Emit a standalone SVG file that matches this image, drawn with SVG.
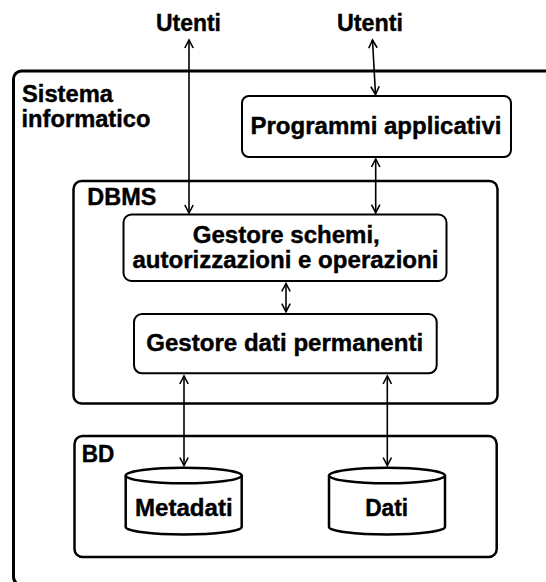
<svg xmlns="http://www.w3.org/2000/svg" width="546" height="582" viewBox="0 0 546 582">
  <style>
    text { font-family: "Liberation Sans", Arial, Helvetica, sans-serif; font-weight: bold; font-size: 23.5px; fill: #000; stroke: #000; stroke-width: 0.4; }
    .mid { text-anchor: middle; }
    .frame { fill: #fff; stroke: #000; stroke-width: 3; }
    .group { fill: #fff; stroke: #000; stroke-width: 2.5; }
    .box { fill: #fff; stroke: #000; stroke-width: 2; }
    .db { fill: #fff; stroke: #000; stroke-width: 2.5; }
    .link { fill: none; stroke: #000; stroke-width: 1.6; marker-start: url(#head); marker-end: url(#head); }
  </style>
  <defs>
    <marker id="head" markerUnits="userSpaceOnUse" viewBox="-10 -6 12 12" refX="0" refY="0" markerWidth="12" markerHeight="12" orient="auto-start-reverse">
      <path d="M-8,-4.2 L0,0 L-8,4.2" fill="none" stroke="#000" stroke-width="1.6"/>
    </marker>
  </defs>

  <rect x="0" y="0" width="546" height="582" fill="#fff"/>

  <!-- outer system frame -->
  <g id="sistema">
    <rect class="frame" x="13.5" y="71" width="560" height="514" rx="8"/>
    <text x="22" y="102" textLength="91" lengthAdjust="spacingAndGlyphs">Sistema</text>
    <text x="21.5" y="126.5" textLength="129" lengthAdjust="spacingAndGlyphs">informatico</text>
  </g>

  <g id="utenti1">
    <text class="mid" x="188.5" y="30.5" textLength="65" lengthAdjust="spacingAndGlyphs">Utenti</text>
  </g>
  <g id="utenti2">
    <text class="mid" x="370" y="30.5" textLength="66" lengthAdjust="spacingAndGlyphs">Utenti</text>
  </g>

  <g id="programmi">
    <rect class="box" x="242" y="96" width="269" height="61" rx="7"/>
    <text class="mid" x="376" y="134" textLength="251" lengthAdjust="spacingAndGlyphs">Programmi applicativi</text>
  </g>

  <g id="dbms">
    <rect class="group" x="73.5" y="181" width="424" height="222.5" rx="8"/>
    <text x="87.3" y="205" textLength="69" lengthAdjust="spacingAndGlyphs">DBMS</text>
  </g>

  <g id="gestore-schemi">
    <rect class="box" x="123.5" y="214.5" width="323" height="66.5" rx="8"/>
    <text class="mid" x="286.3" y="243" textLength="187" lengthAdjust="spacingAndGlyphs">Gestore schemi,</text>
    <text class="mid" x="285.4" y="268" textLength="306" lengthAdjust="spacingAndGlyphs">autorizzazioni e operazioni</text>
  </g>

  <g id="gestore-dati">
    <rect class="box" x="134" y="314" width="302.7" height="59.3" rx="8"/>
    <text class="mid" x="284.7" y="351" textLength="277" lengthAdjust="spacingAndGlyphs">Gestore dati permanenti</text>
  </g>

  <g id="bd">
    <rect class="group" x="74.5" y="436" width="422.2" height="121" rx="8"/>
    <text x="81.7" y="461.5" textLength="32.6" lengthAdjust="spacingAndGlyphs">BD</text>
  </g>

  <g id="metadati">
    <path class="db" d="M125.7,475.5 L125.7,527 A58,7.5 0 0 0 241.7,527 L241.7,475.5"/>
    <ellipse class="db" cx="183.7" cy="475.5" rx="58" ry="7.8"/>
    <text class="mid" x="183.8" y="516" textLength="97.7" lengthAdjust="spacingAndGlyphs">Metadati</text>
  </g>

  <g id="dati">
    <path class="db" d="M329,475.5 L329,527 A58,7.5 0 0 0 445,527 L445,475.5"/>
    <ellipse class="db" cx="387" cy="475.5" rx="58" ry="7.8"/>
    <text class="mid" x="386.7" y="516" textLength="43" lengthAdjust="spacingAndGlyphs">Dati</text>
  </g>

  <!-- connectors -->
  <g id="connectors">
    <line class="link" x1="189" y1="40" x2="189" y2="213"/>
    <line class="link" x1="372.5" y1="40" x2="375.5" y2="94.5"/>
    <line class="link" x1="375.7" y1="159" x2="375.7" y2="212.7"/>
    <line class="link" x1="286" y1="283.5" x2="286" y2="311.7"/>
    <line class="link" x1="184" y1="376" x2="184" y2="465.5"/>
    <line class="link" x1="387.3" y1="376" x2="387.3" y2="465.5"/>
  </g>
</svg>
